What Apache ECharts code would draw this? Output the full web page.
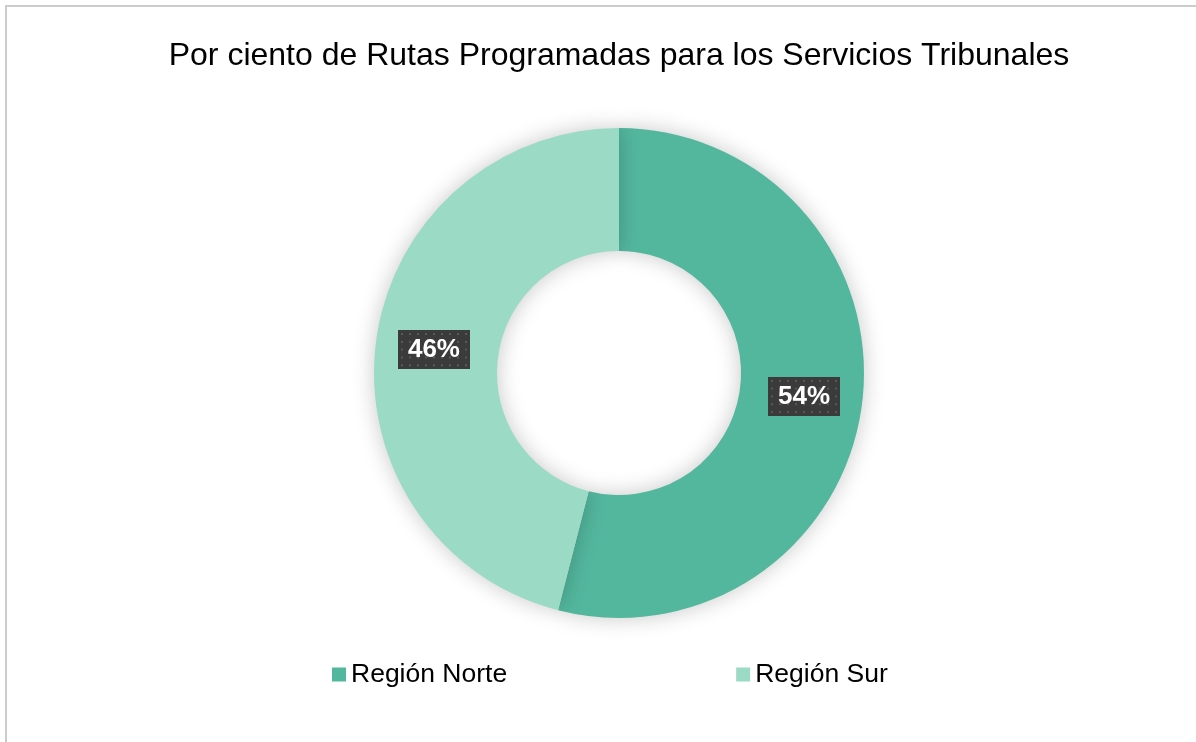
<!DOCTYPE html>
<html>
<head>
<meta charset="utf-8">
<script src="https://cdn.jsdelivr.net/npm/echarts@6/dist/echarts.min.js"></script>
<style>
  html, body { margin: 0; padding: 0; background: #fff; overflow: hidden; }
  .frame {
    position: absolute; left: 5px; top: 5px; width: 1240px; height: 760px;
    border: 2px solid #cccccc; box-sizing: border-box;
  }
  #chart { position: absolute; left: 0; top: 0; width: 1238px; height: 742px; }
</style>
</head>
<body>
<div class="frame"></div>
<div id="chart"></div>
<script>
var titleText = 'Por ciento de Rutas Programadas para los Servicios Tribunales'
var regions = ['Región Norte', 'Región Sur']
var percents = [54, 46]
var colors = ['#53b79e', '#9bdbc6']

// fondo punteado de las etiquetas
function dotPattern(w, h) {
  var c = document.createElement('canvas')
  c.width = w
  c.height = h
  var ctx = c.getContext('2d')
  ctx.fillStyle = '#3b3b3b'
  ctx.fillRect(0, 0, w, h)
  ctx.fillStyle = '#595959'
  for (var y = 3; y < h; y += 8) {
    for (var x = 3; x < w; x += 8) {
      ctx.fillRect(x, y, 2, 2)
    }
  }
  return c
}

var chart = echarts.init(document.getElementById('chart'))
var pattern = dotPattern(72, 40)

chart.setOption({
  animation: false,
  title: {
    text: titleText,
    left: 'center',
    top: 35,
    textStyle: {
      fontFamily: 'Liberation Sans, Arial, sans-serif',
      fontSize: 32,
      fontWeight: 'normal',
      color: '#000'
    }
  },
  legend: {
    data: regions,
    left: 327,
    top: 656,
    icon: 'rect',
    itemWidth: 14,
    itemHeight: 14,
    itemGap: 229,
    textStyle: {
      fontFamily: 'Liberation Sans, Arial, sans-serif',
      fontSize: 26.5,
      color: '#000'
    }
  },
  series: [
    {
      type: 'pie',
      center: [619, 373],
      radius: [122, 245],
      startAngle: 90,
      clockwise: true,
      color: colors,
      itemStyle: {
        shadowBlur: 22,
        shadowColor: 'rgba(0,0,0,0.22)'
      },
      label: {
        position: 'inside',
        formatter: '{c}%',
        fontFamily: 'Liberation Sans, Arial, sans-serif',
        fontSize: 26,
        lineHeight: 26,
        fontWeight: 'bold',
        color: '#fff',
        backgroundColor: { image: pattern },
        padding: [8, 10, 5, 10],
        shadowBlur: 6,
        shadowOffsetX: 3,
        shadowOffsetY: 3,
        shadowColor: 'rgba(0,0,0,0.45)'
      },
      labelLine: { show: false },
      emphasis: { disabled: true },
      data: regions.map(function (name, i) {
        return { name: name, value: percents[i] }
      })
    }
  ]
})
</script>
</body>
</html>
